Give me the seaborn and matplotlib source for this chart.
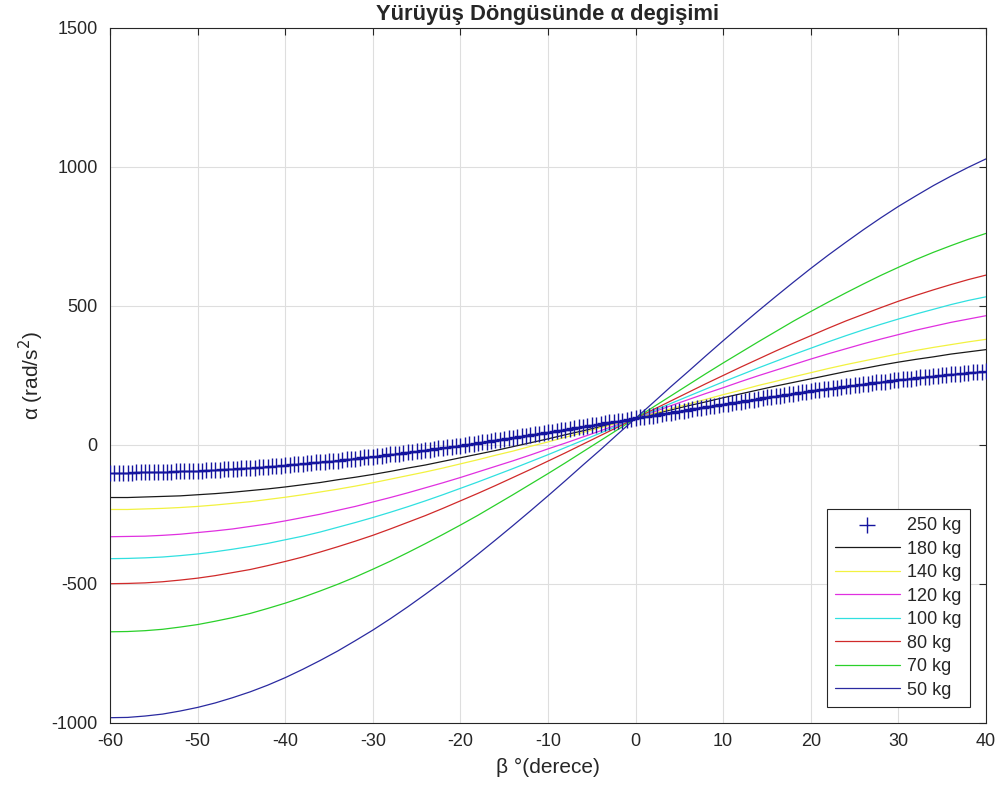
import matplotlib
matplotlib.use("Agg")
import matplotlib.pyplot as plt
import numpy as np
import pandas as pd
import seaborn as sns

sns.set_style("white")
plt.rcParams["font.family"] = ["Liberation Sans", "DejaVu Sans"]
plt.rcParams["axes.unicode_minus"] = False

# beta sampling (degrees): lines every 2 deg, the 250 kg markers every 0.5 deg
BETA_LINE = list(range(-60, 41, 2))
BETA_MARK = np.arange(-60, 40.25, 0.5)

# alpha (rad/s^2)
ALPHA_250 = [
    -99, -99, -99, -99, -99, -99, -98, -98, -98, -98,
    -97, -97, -97, -96, -96, -95, -95, -94, -94, -93,
    -92, -92, -91, -90, -89, -89, -88, -87, -86, -85,
    -84, -83, -82, -81, -80, -79, -78, -77, -75, -74,
    -73, -72, -70, -69, -68, -66, -65, -63, -62, -60,
    -59, -57, -56, -54, -52, -51, -49, -47, -45, -44,
    -42, -40, -38, -36, -34, -33, -31, -29, -27, -25,
    -23, -21, -19, -17, -14, -12, -10, -8, -6, -4,
    -2, 1, 3, 5, 7, 10, 12, 14, 17, 19,
    21, 24, 26, 29, 31, 33, 36, 38, 41, 43,
    46, 48, 50, 53, 55, 58, 60, 63, 65, 68,
    71, 73, 76, 78, 81, 83, 86, 88, 91, 93,
    96,
    99, 101, 104, 106, 109, 111, 114, 116, 119, 121,
    124, 127, 129, 132, 134, 137, 139, 142, 144, 146,
    149, 151, 154, 156, 159, 161, 163, 166, 168, 171,
    173, 175, 178, 180, 182, 185, 187, 189, 191, 194,
    196, 198, 200, 202, 204, 206, 209, 211, 213, 215,
    217, 219, 221, 223, 225, 226, 228, 230, 232, 234,
    236, 237, 239, 241, 243, 244, 246, 248, 249, 251,
    252, 254, 255, 257, 258, 260, 261, 262, 264, 265,
]
ALPHA_180 = [-189, -189, -187, -185, -183, -179, -175, -170, -164, -158,
             -151, -143, -135, -125, -116, -106, -95, -83, -72, -59,
             -46, -33, -20, -6, 8, 22, 37, 51, 66, 81,
             96, 111, 126, 141, 155, 170, 184, 198, 212, 225,
             238, 251, 264, 275, 287, 298, 308, 317, 327, 335, 343]
ALPHA_140 = [-232, -232, -230, -228, -225, -221, -216, -210, -204, -196,
             -188, -179, -169, -159, -148, -136, -123, -110, -97, -83,
             -68, -53, -37, -22, -5, 11, 28, 45, 62, 79,
             96, 113, 130, 147, 164, 181, 197, 214, 229, 245,
             260, 275, 289, 302, 315, 328, 340, 351, 361, 371, 380]
ALPHA_120 = [-330, -329, -328, -325, -321, -315, -309, -302, -293, -284,
             -273, -261, -249, -235, -221, -205, -189, -172, -154, -136,
             -117, -97, -77, -57, -36, -14, 7, 29, 51, 74,
             96, 118, 141, 163, 185, 206, 228, 249, 269, 289,
             309, 328, 346, 364, 381, 397, 413, 427, 441, 453, 465]
ALPHA_100 = [-409, -408, -406, -403, -398, -392, -384, -375, -365, -354,
             -341, -328, -313, -296, -279, -261, -242, -222, -201, -179,
             -156, -133, -109, -85, -60, -35, -9, 17, 43, 70,
             96, 122, 149, 175, 201, 227, 252, 277, 301, 325,
             348, 371, 393, 414, 434, 453, 471, 488, 505, 520, 533]
ALPHA_80 = [-499, -498, -496, -492, -486, -479, -470, -459, -448, -434,
            -419, -403, -385, -366, -346, -325, -302, -278, -254, -228,
            -201, -174, -146, -117, -88, -58, -28, 3, 34, 65,
            96, 127, 158, 189, 220, 250, 280, 309, 338, 366,
            393, 420, 446, 470, 494, 517, 538, 558, 577, 595, 611]
ALPHA_70 = [-672, -671, -668, -663, -655, -646, -634, -621, -606, -588,
            -569, -548, -525, -501, -475, -447, -418, -387, -355, -322,
            -288, -253, -216, -179, -141, -103, -64, -24, 16, 56,
            96, 136, 176, 216, 256, 295, 333, 371, 408, 445,
            480, 514, 547, 579, 610, 639, 667, 693, 717, 740, 761]
ALPHA_50 = [-981, -980, -975, -968, -957, -944, -928, -909, -888, -864,
            -837, -807, -775, -741, -704, -666, -625, -582, -537, -491,
            -443, -393, -342, -290, -237, -183, -128, -72, -17, 40,
            96, 152, 209, 264, 320, 375, 429, 482, 534, 585,
            635, 683, 729, 774, 817, 858, 896, 933, 967, 999, 1029]

LINES = [
    ("180 kg", ALPHA_180, "#1a1a1a"),
    ("140 kg", ALPHA_140, "#f2f240"),
    ("120 kg", ALPHA_120, "#e030e0"),
    ("100 kg", ALPHA_100, "#30e0e0"),
    ("80 kg", ALPHA_80, "#d02a2a"),
    ("70 kg", ALPHA_70, "#2ad02a"),
    ("50 kg", ALPHA_50, "#2a2aa0"),
]

fig, ax = plt.subplots(figsize=(10.05, 7.93), dpi=100)
fig.subplots_adjust(left=0.1095, right=0.981, bottom=0.0883, top=0.9647)

sns.scatterplot(x=BETA_MARK, y=ALPHA_250, marker="+", s=120, color="#14149e",
                linewidth=1.0, label="250 kg", ax=ax, zorder=3)
for name, vals, col in LINES:
    sns.lineplot(x=BETA_LINE, y=vals, color=col, linewidth=0.9, label=name,
                 ax=ax, zorder=2)

ax.set_xlim(-60, 40)
ax.set_ylim(-1000, 1500)
ax.set_xticks(range(-60, 41, 10))
ax.set_yticks(range(-1000, 1501, 500))
ax.grid(True, color="#dedede", linewidth=0.8)
ax.set_axisbelow(True)
for sp in ax.spines.values():
    sp.set_color("#262626")
    sp.set_linewidth(0.8)
ax.tick_params(direction="in", top=True, right=True, length=5, width=0.8,
               labelsize=13, colors="#262626")
ax.tick_params(axis="y", pad=9)
ax.tick_params(axis="x", pad=7)
for lab in ax.get_xticklabels() + ax.get_yticklabels():
    lab.set_color("#262626")

ax.set_title("Yürüyüş Döngüsünde α degişimi", fontsize=15.8, fontweight="bold", pad=6)
ax.set_xlabel("β °(derece)", fontsize=15, color="#262626", labelpad=6)
ax.set_ylabel("α (rad/s$^{2}$)", fontsize=15, color="#262626", labelpad=4)

leg = ax.legend(loc="lower right", fontsize=13, handlelength=3.6,
                labelspacing=0.36, borderaxespad=0.9, fancybox=False,
                framealpha=1, edgecolor="#262626", borderpad=0.45,
                handletextpad=0.4)
leg.get_frame().set_linewidth(0.8)

fig.savefig("out.png", dpi=100)
